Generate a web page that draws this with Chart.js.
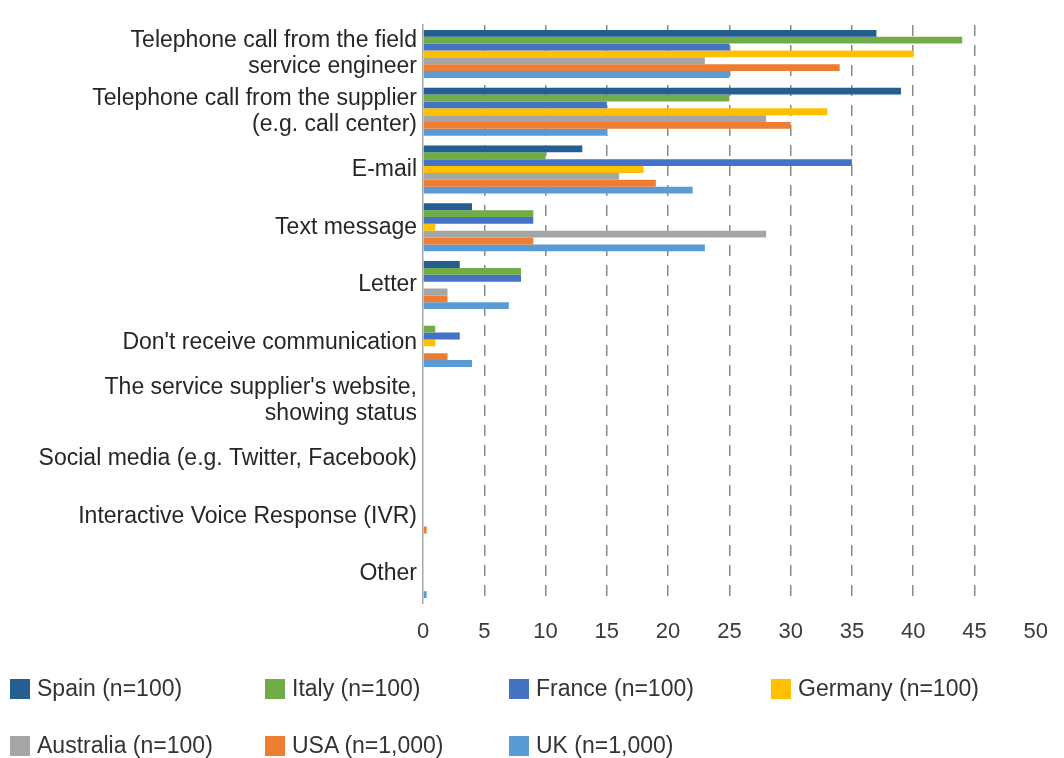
<!DOCTYPE html>
<html>
<head>
<meta charset="utf-8">
<script src="https://cdn.jsdelivr.net/npm/chart.js@4.4.0/dist/chart.umd.min.js"></script>
<style>
  html, body { margin: 0; padding: 0; background: #ffffff; }
  #wrap { position: relative; width: 1064px; height: 758px; overflow: hidden; }
  #chart { position: absolute; left: 0; top: 0; }
  .leg { position: absolute; font: 23px "Liberation Sans", Arial, sans-serif; color: #333333; white-space: nowrap; line-height: 24px; }
  .leg i { display: inline-block; width: 20px; height: 20px; vertical-align: -3px; margin-right: 7px; }
</style>
</head>
<body>
<div id="wrap">
  <canvas id="chart" width="1064" height="758"></canvas>
  <div id="legend"></div>
</div>
<script>
// Communication channels (one row of bars each)
const categories = [
  ['Telephone call from the field', 'service engineer'],
  ['Telephone call from the supplier', '(e.g. call center)'],
  'E-mail',
  'Text message',
  'Letter',
  "Don't receive communication",
  ["The service supplier's website,", 'showing status'],
  'Social media (e.g. Twitter, Facebook)',
  'Interactive Voice Response (IVR)',
  'Other'
];

// Share of respondents (%) per country
const spain     = [37, 39, 13, 4, 3, 0, 0, 0, 0, 0];
const italy     = [44, 25, 10, 9, 8, 1, 0, 0, 0, 0];
const france    = [25, 15, 35, 9, 8, 3, 0, 0, 0, 0];
const germany   = [40, 33, 18, 1, 0, 1, 0, 0, 0, 0];
const australia = [23, 28, 16, 28, 2, 0, 0, 0, 0, 0];
const usa       = [34, 30, 19, 9, 2, 2, 0, 0, 0.3, 0];
const uk        = [25, 15, 22, 23, 7, 4, 0, 0, 0, 0.3];

const seriesNames = ['Spain (n=100)', 'Italy (n=100)', 'France (n=100)', 'Germany (n=100)',
                     'Australia (n=100)', 'USA (n=1,000)', 'UK (n=1,000)'];
const seriesValues = [spain, italy, france, germany, australia, usa, uk];
const seriesColors = ['#255E91', '#70AD47', '#4472C4', '#FFC000', '#A5A5A5', '#ED7D31', '#5B9BD5'];

// Percentage axis tick values
const xTicks = [0, 5, 10, 15, 20, 25, 30, 35, 40, 45, 50];

const FONT = '"Liberation Sans", Arial, sans-serif';

const datasets = seriesNames.map((name, i) => ({
  label: name,
  data: seriesValues[i],
  backgroundColor: seriesColors[i],
  borderWidth: 0,
  barPercentage: 1.0,
  categoryPercentage: 0.83
}));

new Chart(document.getElementById('chart'), {
  type: 'bar',
  data: { labels: categories, datasets },
  options: {
    indexAxis: 'y',
    responsive: false,
    animation: false,
    devicePixelRatio: 1,
    layout: { padding: { top: 25, right: 16, bottom: 0, left: 0 } },
    plugins: { legend: { display: false }, tooltip: { enabled: false } },
    scales: {
      x: {
        min: 0,
        max: 50,
        afterBuildTicks: (scale) => { scale.ticks = xTicks.map(v => ({ value: v })); },
        afterFit: (scale) => { scale.height = 155; },
        ticks: {
          padding: 16,
          color: '#3a3a3a',
          font: { family: FONT, size: 22 }
        },
        grid: {
          drawTicks: false,
          lineWidth: 1.5,
          color: (ctx) => (ctx.tick && (ctx.tick.value === 0 || ctx.tick.value === 50)) ? 'rgba(0,0,0,0)' : '#8a8a8a'
        },
        border: { display: false, dash: [11, 9] }
      },
      y: {
        afterFit: (scale) => { scale.width = 423; },
        ticks: {
          padding: 6,
          color: '#262626',
          font: { family: FONT, size: 23, lineHeight: 1.15 }
        },
        grid: { display: false, drawTicks: false },
        border: { display: true, color: '#a8a8a8', width: 1.5 }
      }
    }
  }
});

// Legend laid out in a four-column grid below the plot
const legendCols = [10, 265, 509, 771];
const legendRows = [676, 733];
const legendEl = document.getElementById('legend');
seriesNames.forEach((name, i) => {
  const d = document.createElement('div');
  d.className = 'leg';
  d.style.left = legendCols[i % 4] + 'px';
  d.style.top = legendRows[Math.floor(i / 4)] + 'px';
  const sw = document.createElement('i');
  sw.style.background = seriesColors[i];
  d.appendChild(sw);
  d.appendChild(document.createTextNode(name));
  legendEl.appendChild(d);
});
</script>
</body>
</html>
